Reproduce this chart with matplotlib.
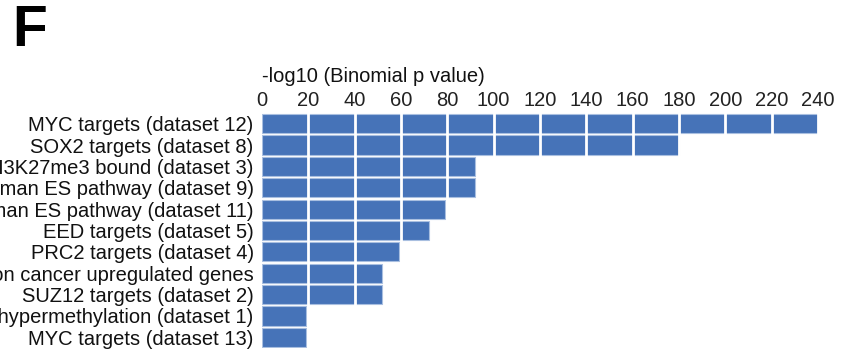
import matplotlib
matplotlib.use("Agg")
import matplotlib.pyplot as plt

plt.rcParams['font.family'] = ['Liberation Sans', 'DejaVu Sans']

gene_sets = [
    "MYC targets (dataset 12)",
    "SOX2 targets (dataset 8)",
    "H3K27me3 bound (dataset 3)",
    "Human ES pathway (dataset 9)",
    "Human ES pathway (dataset 11)",
    "EED targets (dataset 5)",
    "PRC2 targets (dataset 4)",
    "Colon cancer upregulated genes",
    "SUZ12 targets (dataset 2)",
    "Cancer hypermethylation (dataset 1)",
    "MYC targets (dataset 13)",
]
neg_log10_p = [240, 180, 92, 92, 79, 72, 59, 52, 52, 19, 19]
x_ticks = list(range(0, 241, 20))

W, H = 852, 350
fig = plt.figure(figsize=(W / 100, H / 100), dpi=100)
ax = fig.add_axes([262 / W, 1 - 348 / H, (818 - 262) / W, (348 - 113) / H])

ypos = list(range(len(gene_sets)))
ax.barh(ypos, neg_log10_p, height=0.9, color="#4673B8",
        edgecolor="#A9BFE0", linewidth=0.8, zorder=2)

# white separators every 20 units across the bars
for xv in x_ticks[1:]:
    ax.axvline(xv, color="white", linewidth=2.0, zorder=3)

ax.set_xlim(0, 240)
ax.set_ylim(len(gene_sets) - 0.5, -0.5)
ax.set_yticks(ypos)
ax.set_yticklabels(gene_sets, fontsize=14.5, color="#111111")
ax.set_xticks(x_ticks)
ax.set_xticklabels([str(t) for t in x_ticks], fontsize=14.5, color="#222222")
ax.xaxis.tick_top()
ax.tick_params(axis="x", length=0, pad=2)
ax.tick_params(axis="y", length=0, pad=6)
for s in ax.spines.values():
    s.set_visible(False)

fig.text(262 / W, 1 - 77 / H, "-log10 (Binomial p value)", fontsize=14.5,
         ha="left", va="center", color="#111111")
fig.text(12 / W, 1 - 31 / H, "F", fontsize=41, fontweight="bold",
         ha="left", va="center", color="black")

fig.savefig("out.png", dpi=100)
